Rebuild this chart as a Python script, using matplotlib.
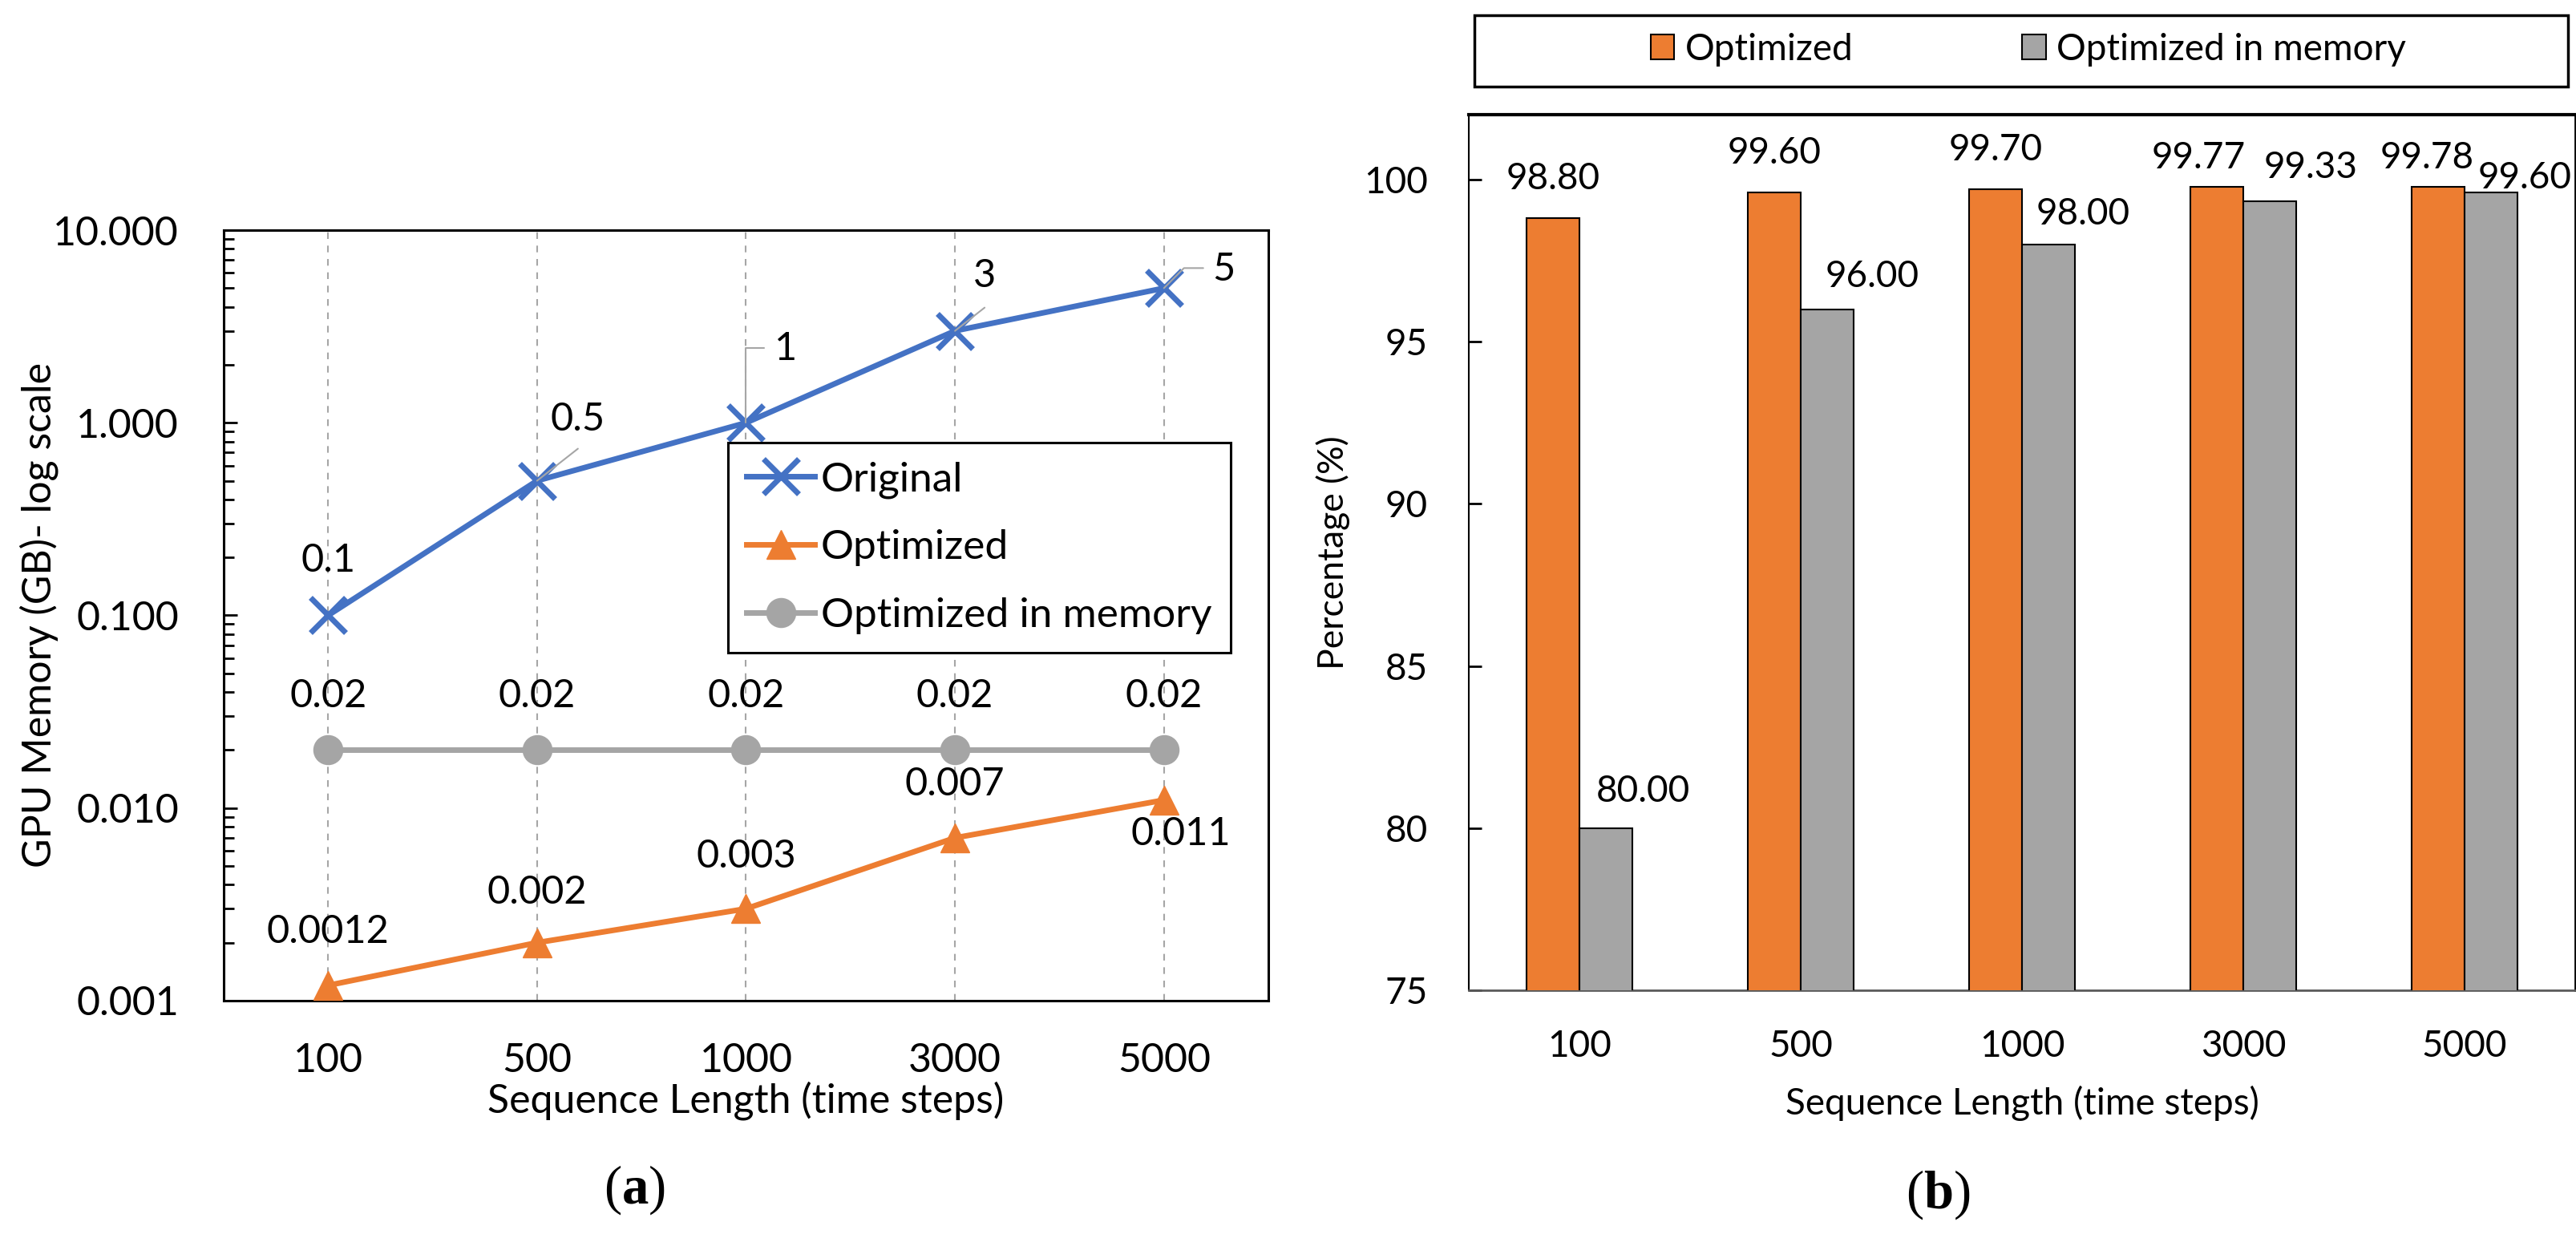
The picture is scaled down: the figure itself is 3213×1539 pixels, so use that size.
import matplotlib
matplotlib.use("Agg")
import matplotlib.pyplot as plt
from matplotlib.patches import Rectangle, Patch
import numpy as np

plt.rcParams['font.family'] = ['Lato', 'DejaVu Sans']
plt.rcParams['mathtext.fontset'] = 'custom'
plt.rcParams['mathtext.rm'] = 'Liberation Serif'
plt.rcParams['mathtext.bf'] = 'Liberation Serif:bold'

# ---------------- data ----------------
seq_labels = ['100', '500', '1000', '3000', '5000']
mem_original = [0.1, 0.5, 1, 3, 5]
mem_optimized = [0.0012, 0.002, 0.003, 0.007, 0.011]
mem_inmemory = [0.02, 0.02, 0.02, 0.02, 0.02]
lab_original = ['0.1', '0.5', '1', '3', '5']
lab_optimized = ['0.0012', '0.002', '0.003', '0.007', '0.011']
lab_inmemory = ['0.02', '0.02', '0.02', '0.02', '0.02']
yticks_mem = [0.001, 0.01, 0.1, 1, 10]

pct_optimized = [98.80, 99.60, 99.70, 99.77, 99.78]
pct_inmemory = [80.00, 96.00, 98.00, 99.33, 99.60]
yticks_pct = [75, 80, 85, 90, 95, 100]

BLUE = '#4472C4'
ORANGE = '#ED7D31'
GREY = '#A5A5A5'
LEAD = '#A6A6A6'

def pt(px):
    return px * 0.72

fig = plt.figure(figsize=(32.13, 15.39), dpi=100)

# ================= (a) =================
ax1 = fig.add_axes([0.0868, 0.1891, 0.4056, 0.6244])
x = np.arange(len(seq_labels))
ax1.set_yscale('log')
ax1.set_xlim(-0.5, len(seq_labels) - 0.5)
ax1.set_ylim(0.001, 10)

ax1.plot(x, mem_original, color=BLUE, lw=5, marker='x', ms=31, mew=5,
         label='Original', zorder=4)
ax1.plot(x, mem_optimized, color=ORANGE, lw=5, marker='^', ms=26,
         label='Optimized', zorder=4)
ax1.plot(x, mem_inmemory, color=GREY, lw=5, marker='o', ms=26,
         label='Optimized in memory', zorder=4)

ax1.set_xticks(x)
ax1.set_xticklabels(seq_labels)
ax1.set_yticks(yticks_mem)
ax1.set_yticklabels(['%.3f' % v for v in yticks_mem])
ax1.tick_params(axis='x', length=0, pad=pt(52), labelsize=36)
ax1.tick_params(axis='y', which='major', direction='in', length=pt(17),
                width=2, pad=pt(56), labelsize=36)
ax1.tick_params(axis='y', which='minor', direction='in', length=pt(13), width=2)
ax1.grid(axis='x', color=LEAD, linestyle=(0, (4, 4)), lw=1.5)
for s in ax1.spines.values():
    s.set_linewidth(2.2)
    s.set_color('black')
ax1.set_xlabel('Sequence Length (time steps)', fontsize=36, labelpad=2)
ax1.set_ylabel('GPU Memory (GB)- log scale', fontsize=36)
ax1.yaxis.set_label_coords(-0.158, 0.5)

# data labels for Original (with leader lines)
orig_off = [(0, 68), (51, 77), (50, 92), (37, 69), (75, 23)]
for i, (v, t) in enumerate(zip(mem_original, lab_original)):
    dx, dy = orig_off[i]
    ax1.annotate(t, (x[i], v), xytext=(pt(dx), pt(dy)), textcoords='offset points',
                 ha='center', va='center', fontsize=35, zorder=6)
# leader lines
leaders = [
    (1, (51, 40), 'arc3,rad=0'),
    (2, (23, 93), 'angle,angleA=180,angleB=90,rad=0'),
    (3, (37, 29), 'arc3,rad=0'),
    (4, (49, 25), 'angle,angleA=180,angleB=45,rad=0'),
]
for i, (ex, ey), cs in leaders:
    ax1.annotate('', xy=(x[i], mem_original[i]), xytext=(pt(ex), pt(ey)),
                 textcoords='offset points',
                 arrowprops=dict(arrowstyle='-', color=LEAD, lw=1.5,
                                 shrinkA=0, shrinkB=0, connectionstyle=cs),
                 zorder=5)

opt_off = [(0, 67), (0, 63), (0, 65), (0, 67), (21, -42)]
for i, (v, t) in enumerate(zip(mem_optimized, lab_optimized)):
    dx, dy = opt_off[i]
    ax1.annotate(t, (x[i], v), xytext=(pt(dx), pt(dy)), textcoords='offset points',
                 ha='center', va='center', fontsize=35, zorder=6)
for i, (v, t) in enumerate(zip(mem_inmemory, lab_inmemory)):
    ax1.annotate(t, (x[i], v), xytext=(0, pt(67)), textcoords='offset points',
                 ha='center', va='center', fontsize=35, zorder=6)

leg1 = ax1.legend(loc='upper left', bbox_to_anchor=(0.483, 0.724), borderaxespad=0,
                  fontsize=37, frameon=True, fancybox=False, framealpha=1,
                  edgecolor='black', handlelength=1.65, handletextpad=0.15,
                  labelspacing=0.75, borderpad=0.45, numpoints=1)
leg1.get_frame().set_linewidth(2.2)
leg1.set_zorder(10)

# ================= (b) =================
ax2 = fig.add_axes([0.5702, 0.1975, 0.4295, 0.7096])
w = 0.24
b1 = ax2.bar(x - w / 2, pct_optimized, w, color=ORANGE, edgecolor='black',
             lw=1.5, label='Optimized', zorder=3)
b2 = ax2.bar(x + w / 2, pct_inmemory, w, color=GREY, edgecolor='black',
             lw=1.5, label='Optimized in memory', zorder=3)
ax2.set_xlim(-0.5, len(seq_labels) - 0.5)
ax2.set_ylim(75, 102)
ax2.set_xticks(x)
ax2.set_xticklabels(seq_labels)
ax2.set_yticks(yticks_pct)
ax2.tick_params(axis='x', length=0, pad=pt(49), labelsize=33)
ax2.tick_params(axis='y', direction='in', length=pt(16), width=2,
                pad=pt(51), labelsize=33)
ax2.spines['top'].set_linewidth(3)
ax2.spines['left'].set_linewidth(1.5)
ax2.spines['right'].set_linewidth(2)
ax2.spines['bottom'].set_linewidth(2)
ax2.spines['bottom'].set_color('#595959')
ax2.set_xlabel('Sequence Length (time steps)', fontsize=33, labelpad=pt(28))
ax2.set_ylabel('Percentage (%)', fontsize=32)
ax2.yaxis.set_label_coords(-0.107, 0.5)

opt_bar_off = [(0, 49), (0, 49), (0, 49), (-23, 36), (-14, 36)]
mem_bar_off = [(46, 46), (56, 41), (43, 38), (51, 42), (42, 18)]
for bars, vals, offs in ((b1, pct_optimized, opt_bar_off), (b2, pct_inmemory, mem_bar_off)):
    for r, v, (dx, dy) in zip(bars, vals, offs):
        ax2.annotate('%.2f' % v, (r.get_x() + r.get_width() / 2, v),
                     xytext=(pt(dx), pt(dy)), textcoords='offset points',
                     ha='center', va='center', fontsize=33, zorder=6)

# legend box above (b)
fig.patches.append(Rectangle((0.5724, 0.9298), 0.4245, 0.0579, transform=fig.transFigure,
                             fill=False, edgecolor='black', lw=2.5))
h = [Patch(facecolor=ORANGE, edgecolor='black', lw=1.5),
     Patch(facecolor=GREY, edgecolor='black', lw=1.5)]
fig.legend(h, ['Optimized', 'Optimized in memory'], loc='center',
           bbox_to_anchor=(0.7874, 0.9597), ncol=2, frameon=False, fontsize=33,
           handlelength=0.64, handleheight=0.66, handletextpad=0.3,
           columnspacing=4.6)

# captions
fig.text(0.2462, 0.0357, r'$(\mathbf{a})$', ha='center', va='center', fontsize=48)
fig.text(0.7523, 0.0318, r'$(\mathbf{b})$', ha='center', va='center', fontsize=48)

fig.savefig('out.png', dpi=100)
